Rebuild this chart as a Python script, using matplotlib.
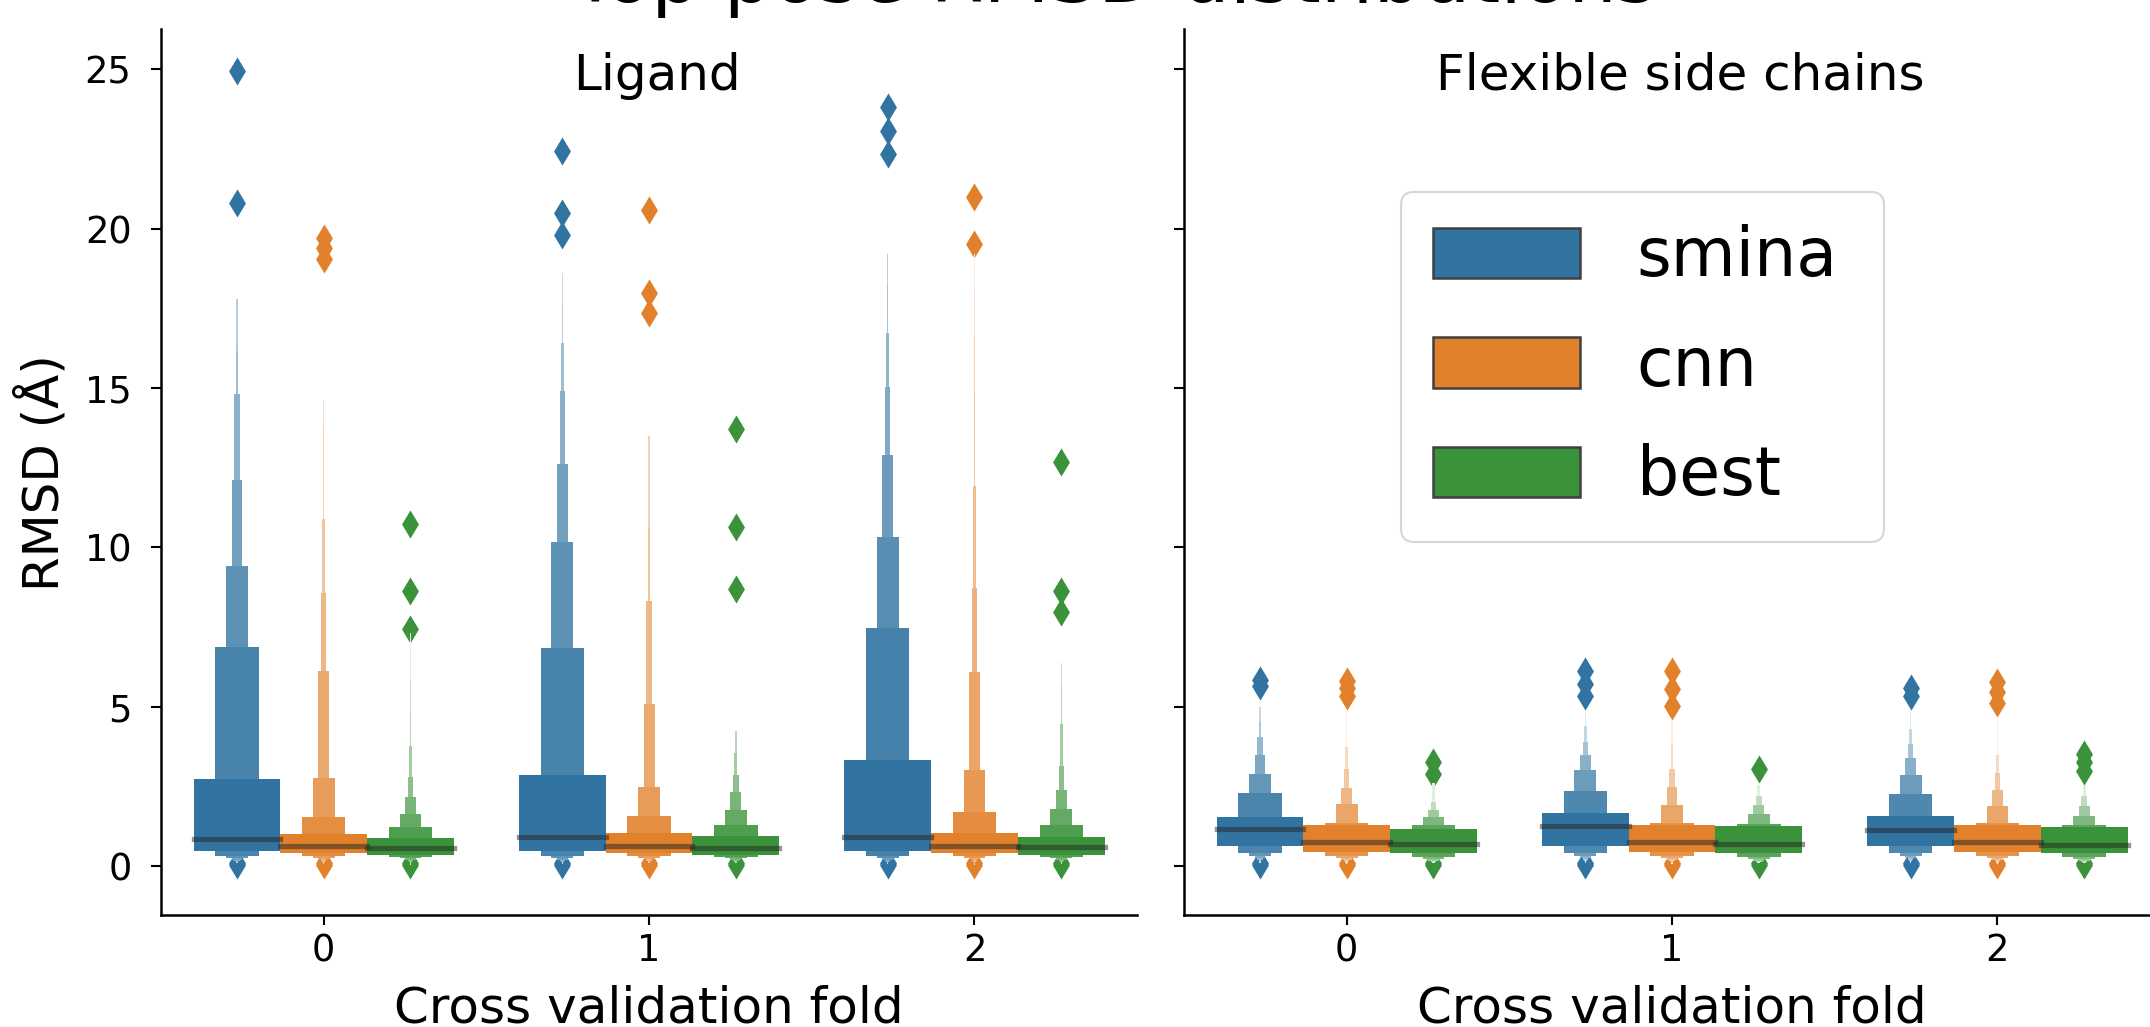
import matplotlib.pyplot as plt
import matplotlib.colors as mcolors
from matplotlib.patches import Patch
import numpy as np

plt.rcParams['font.family'] = 'DejaVu Sans'

folds = [0, 1, 2]
models = ['smina', 'cnn', 'best']
colors = ['#3274a1', '#e1812c', '#3a923a']
panels = ['Ligand', 'Flexible side chains']

# letter-value box upper ends, innermost (IQR) first, one list per fold
lig_smina_hi = [[2.72, 6.87, 9.4, 12.1, 14.8, 16.15, 17.8, 19.9, 20.5],
                [2.86, 6.85, 10.16, 12.62, 14.9, 16.42, 17.59, 18.6, 19.7],
                [3.33, 7.48, 10.32, 12.89, 15.04, 16.73, 18.23, 19.2, 20.8, 22.1]]
lig_cnn_hi = [[1.01, 1.55, 2.76, 6.11, 8.57, 10.9, 13.77, 14.63, 17.96],
              [1.03, 1.57, 2.48, 5.08, 8.31, 10.63, 13.5, 15.5, 16.3],
              [1.04, 1.69, 3.01, 6.09, 8.72, 11.92, 14.88, 16.65, 18.02, 19.2]]
lig_best_hi = [[0.88, 1.22, 1.64, 2.17, 2.8, 3.78, 4.84, 5.9, 7.3],
               [0.94, 1.29, 1.76, 2.32, 2.85, 3.54, 4.23, 5.58, 7.5],
               [0.91, 1.28, 1.79, 2.39, 3.13, 4.47, 5.74, 6.38, 7.54]]
# lower ends, innermost first
lig_smina_lo = [0.46, 0.31, 0.25, 0.2, 0.16, 0.12, 0.09, 0.06, 0.04, 0.02]
lig_cnn_lo = [0.42, 0.31, 0.26, 0.21, 0.17, 0.13, 0.1, 0.07, 0.05, 0.03]
lig_best_lo = [0.36, 0.29, 0.24, 0.2, 0.16, 0.12, 0.09, 0.06, 0.04, 0.02]
lig_smina_med = [0.85, 0.91, 0.91]
lig_cnn_med = [0.63, 0.62, 0.62]
lig_best_med = [0.57, 0.57, 0.59]
lig_smina_out = [[20.8, 24.95], [19.81, 20.49, 22.44], [22.34, 23.06, 23.8]]
lig_cnn_out = [[19.05, 19.4, 19.71], [17.35, 17.98, 20.59], [19.5, 21.0]]
lig_best_out = [[7.44, 8.63, 10.73], [8.68, 10.63, 13.71], [7.96, 8.64, 12.69]]

flex_smina_hi = [[1.54, 2.29, 2.88, 3.48, 4.05, 4.52, 4.99, 5.21],
                 [1.66, 2.35, 3.01, 3.48, 3.89, 4.4, 4.9],
                 [1.57, 2.26, 2.85, 3.39, 3.83, 4.3, 4.89]]
flex_cnn_hi = [[1.29, 1.35, 1.94, 2.44, 3.04, 3.74, 4.89],
               [1.29, 1.35, 1.91, 2.49, 3.04, 3.8, 4.58],
               [1.29, 1.35, 1.88, 2.38, 2.92, 3.48, 4.68]]
flex_best_hi = [[1.16, 1.29, 1.54, 1.76, 2.0, 2.6],
                [1.25, 1.32, 1.63, 1.91, 2.2, 2.54],
                [1.22, 1.30, 1.57, 1.88, 2.2, 2.54]]
flex_smina_lo = [0.64, 0.42, 0.32, 0.25, 0.2, 0.15, 0.1, 0.06]
flex_cnn_lo = [0.45, 0.32, 0.25, 0.2, 0.15, 0.1, 0.06]
flex_best_lo = [0.42, 0.29, 0.22, 0.17, 0.12, 0.08]
flex_smina_med = [1.16, 1.24, 1.13]
flex_cnn_med = [0.76, 0.74, 0.74]
flex_best_med = [0.68, 0.68, 0.66]
flex_smina_out = [[5.65, 5.83], [5.33, 5.72, 6.11], [5.33, 5.58]]
flex_cnn_out = [[5.33, 5.57, 5.81], [5.02, 5.56, 6.11], [5.12, 5.45, 5.76]]
flex_best_out = [[2.88, 3.25], [3.04], [2.98, 3.25, 3.51]]

low_out = [0.02, 0.1]

box_w = 0.8 / 3


def draw_box(ax, x, hi, lo, med, out, color):
    k = len(hi)
    base = np.array(mcolors.to_rgb(color))
    pts = list(out) + low_out
    ax.scatter(np.repeat(x, len(pts)), pts, marker='d', s=205, color=color, linewidths=0)
    for i in range(k - 1, -1, -1):  # outermost first so the IQR box sits on top
        c = base + (1 - base) * 0.85 * i / (k - 1)
        ax.bar(x, hi[i] - lo[i], bottom=lo[i], width=box_w / 2 ** i, color=c, linewidth=0)
    ax.plot([x - box_w / 2, x + box_w / 2], [med, med], color='.15', alpha=.5, lw=3.8)


fig = plt.figure(figsize=(21.5, 10.27), dpi=100)
ax_l = fig.add_axes([0.0749, 0.109, 0.454, 0.8624])
ax_r = fig.add_axes([0.5507, 0.109, 0.454, 0.8624], sharey=ax_l)

panel_data = [
    (ax_l, [lig_smina_hi, lig_cnn_hi, lig_best_hi], [lig_smina_lo, lig_cnn_lo, lig_best_lo],
     [lig_smina_med, lig_cnn_med, lig_best_med], [lig_smina_out, lig_cnn_out, lig_best_out]),
    (ax_r, [flex_smina_hi, flex_cnn_hi, flex_best_hi], [flex_smina_lo, flex_cnn_lo, flex_best_lo],
     [flex_smina_med, flex_cnn_med, flex_best_med], [flex_smina_out, flex_cnn_out, flex_best_out]),
]

for (ax, his, los, meds, outs), title in zip(panel_data, panels):
    for f in folds:
        for m in range(len(models)):
            x = f + (m - 1) * box_w
            draw_box(ax, x, his[m][f], los[m], meds[m][f], outs[m][f], colors[m])
    ax.set_xlim(-0.5, 2.5)
    ax.set_xticks(folds)
    ax.set_title(title, x=0.508, y=0.9318, pad=0, fontsize=36)
    ax.set_xlabel('Cross validation fold', fontsize=36, labelpad=11)
    for s in ['top', 'right']:
        ax.spines[s].set_visible(False)
    for s in ['left', 'bottom']:
        ax.spines[s].set_linewidth(1.8)
    ax.tick_params(axis='both', labelsize=26.5, length=7.2, width=1.5)
    ax.tick_params(axis='x', pad=5)
    ax.tick_params(axis='y', pad=14)

ax_l.set_ylim(-1.54, 26.25)
ax_l.set_yticks([0, 5, 10, 15, 20, 25])
ax_l.set_ylabel('RMSD (Å)', fontsize=36, labelpad=12)
ax_r.tick_params(labelleft=False)

handles = [Patch(facecolor=c, edgecolor='.25', linewidth=1.8, label=m) for c, m in zip(colors, models)]
leg = ax_r.legend(handles=handles, loc='upper left', mode='expand',
                  bbox_to_anchor=(1400.6 / 2150, 1 - 541.7 / 1027, 483.4 / 2150, 350 / 1027),
                  bbox_transform=fig.transFigure, borderaxespad=0, fontsize=48,
                  handlelength=2.2, handleheight=0.78, handletextpad=0.85, labelspacing=0.65,
                  borderpad=0.49, fancybox=True)
leg.get_frame().set_linewidth(1.5)

fig.text(0.518, 1 - 2 / 1027, 'Top pose RMSD distributions', ha='center', va='baseline', fontsize=55)

fig.savefig('out.png', dpi=100)
